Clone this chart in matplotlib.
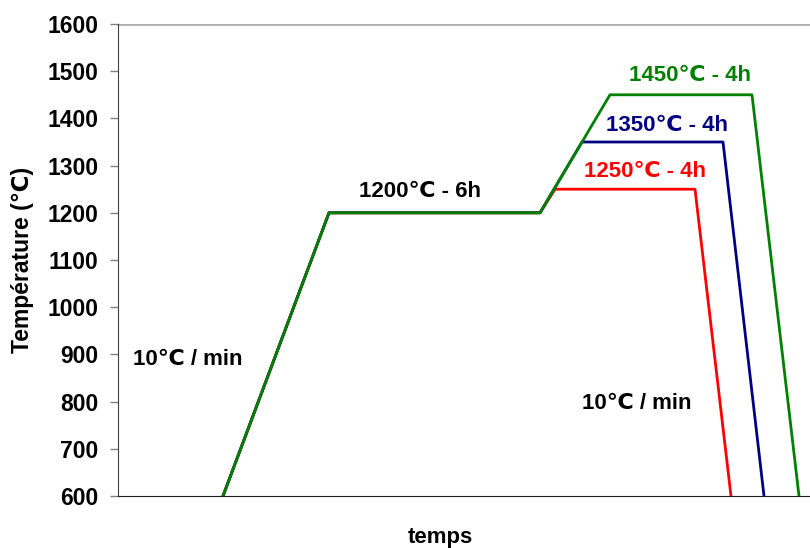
import matplotlib.pyplot as plt

plt.rcParams['font.family'] = ['Liberation Sans', 'DejaVu Sans']

# temps (unités arbitraires) et température
temps_1250 = [105, 211, 422, 437, 577, 613]
temp_1250 = [600, 1200, 1200, 1250, 1250, 600]
temps_1350 = [105, 211, 422, 464, 605, 646]
temp_1350 = [600, 1200, 1200, 1350, 1350, 600]
temps_1450 = [105, 211, 422, 492, 634, 681]
temp_1450 = [600, 1200, 1200, 1450, 1450, 600]

yticks = [600, 700, 800, 900, 1000, 1100, 1200, 1300, 1400, 1500, 1600]

fig = plt.figure(figsize=(8.1, 5.48), dpi=100)
ax = fig.add_axes([118 / 810, 52 / 548, 1 - 118 / 810, 472 / 548])

ax.plot(temps_1250, temp_1250, color="#ff0000", lw=2)
ax.plot(temps_1350, temp_1350, color="#000080", lw=2)
ax.plot(temps_1450, temp_1450, color="#008000", lw=2)

ax.set_xlim(0, 692)
ax.set_ylim(600, 1600)
ax.set_yticks(yticks)
ax.set_xticks([])
ax.axhline(1600, color="#b0b0b0", lw=2, zorder=0)

for s in ["top", "right"]:
    ax.spines[s].set_visible(False)
ax.spines["left"].set_color("#404040")
ax.spines["bottom"].set_color("#202020")
ax.tick_params(axis="y", length=6, width=1, color="#808080", labelsize=16.5, pad=8)
for lab in ax.get_yticklabels():
    lab.set_fontweight("bold")

ax.set_ylabel("Température (℃)", fontsize=16.5, fontweight="bold")
ax.yaxis.set_label_coords((23 - 118) / 692, 0.5)
ax.set_xlabel("temps", fontsize=16, fontweight="bold")
ax.xaxis.set_label_coords((440 - 118) / 692, -(537 - 496) / 472)
ax.xaxis.label.set_va("center")
ax.yaxis.label.set_va("center")

kw = dict(fontsize=16, fontweight="bold", ha="center", va="center")
ax.text(302, 1245, "1200℃ - 6h", color="black", **kw)
ax.text(70, 890, "10℃ / min", color="black", **kw)
ax.text(519, 795, "10℃ / min", color="black", **kw)
ax.text(572, 1490, "1450℃ - 4h", color="#008000", **kw)
ax.text(549, 1385, "1350℃ - 4h", color="#000080", **kw)
ax.text(527, 1287, "1250℃ - 4h", color="#ff0000", **kw)

plt.savefig("out.png", dpi=100)
